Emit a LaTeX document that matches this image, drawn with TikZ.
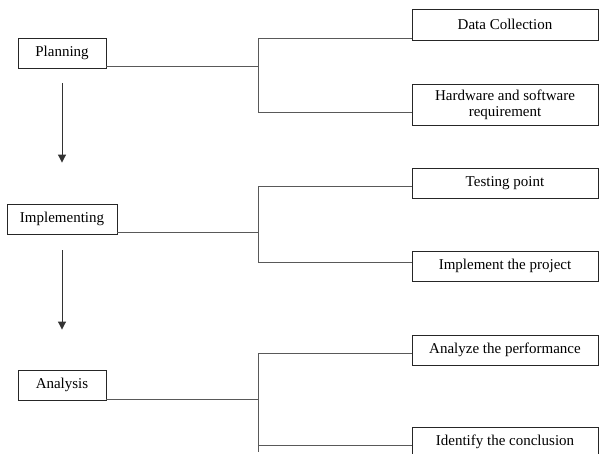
\documentclass[tikz,border=0pt]{standalone}
\usepackage{fontspec}
\setmainfont{Liberation Serif}
\usetikzlibrary{arrows.meta}
\begin{document}
\begin{tikzpicture}[x=1pt,y=-1pt,
  box/.style={draw=black!85,line width=0.9pt,inner sep=0pt,align=center,font=\fontsize{15}{15}\selectfont},
  conn/.style={draw=black!65,line width=0.9pt},
  flow/.style={draw=black!80,line width=1pt,-{Triangle[length=8pt,width=8pt]}}]
\useasboundingbox (0,0) rectangle (600,454);
\clip (0,0) rectangle (600,454);
% left column
\node[box,minimum width=88pt,minimum height=30pt] (plan) at (62,53) {Planning};
\node[box,minimum width=110pt,minimum height=30pt] (impl) at (62,219) {Implementing};
\node[box,minimum width=88pt,minimum height=30pt] (anal) at (62,385) {Analysis};
% right column
\node[box,minimum width=186pt,minimum height=31pt] (dc) at (505,24.5) {Data Collection};
\node[box,minimum width=186pt,minimum height=41pt,font=\fontsize{15}{16}\selectfont] (hw) at (505,104.5) {Hardware and software\\requirement};
\node[box,minimum width=186pt,minimum height=30pt] (tp) at (505,183) {Testing point};
\node[box,minimum width=186pt,minimum height=30pt] (ip) at (505,266) {Implement the project};
\node[box,minimum width=186pt,minimum height=30pt] (ap) at (505,350) {Analyze the performance};
\node[box,minimum width=186pt,minimum height=30pt] (ic) at (505,442) {Identify the conclusion};
% bracket junctions
\coordinate (a0) at (258,66);
\coordinate (a1) at (258,38);
\coordinate (a2) at (258,112);
\coordinate (b0) at (258,232);
\coordinate (b1) at (258,186);
\coordinate (b2) at (258,262);
\coordinate (c0) at (258,399);
\coordinate (c1) at (258,353);
\coordinate (c2) at (258,445);
\coordinate (c3) at (258,452);
% connectors
\draw[conn] (plan.east |- a0) -- (a0);
\draw[conn] (dc.west |- a1) -- (a1) -- (a2) -- (hw.west |- a2);
\draw[conn] (impl.east |- b0) -- (b0);
\draw[conn] (tp.west |- b1) -- (b1) -- (b2) -- (ip.west |- b2);
\draw[conn] (anal.east |- c0) -- (c0);
\draw[conn] (ap.west |- c1) -- (c1) -- (c3);
\draw[conn] (c2) -- (ic.west |- c2);
% flow arrows
\draw[flow,shorten <=15pt,shorten >=41pt] (plan.south) -- (plan.south |- impl.north);
\draw[flow,shorten <=16pt,shorten >=40pt] (impl.south) -- (impl.south |- anal.north);
\end{tikzpicture}
\end{document}
